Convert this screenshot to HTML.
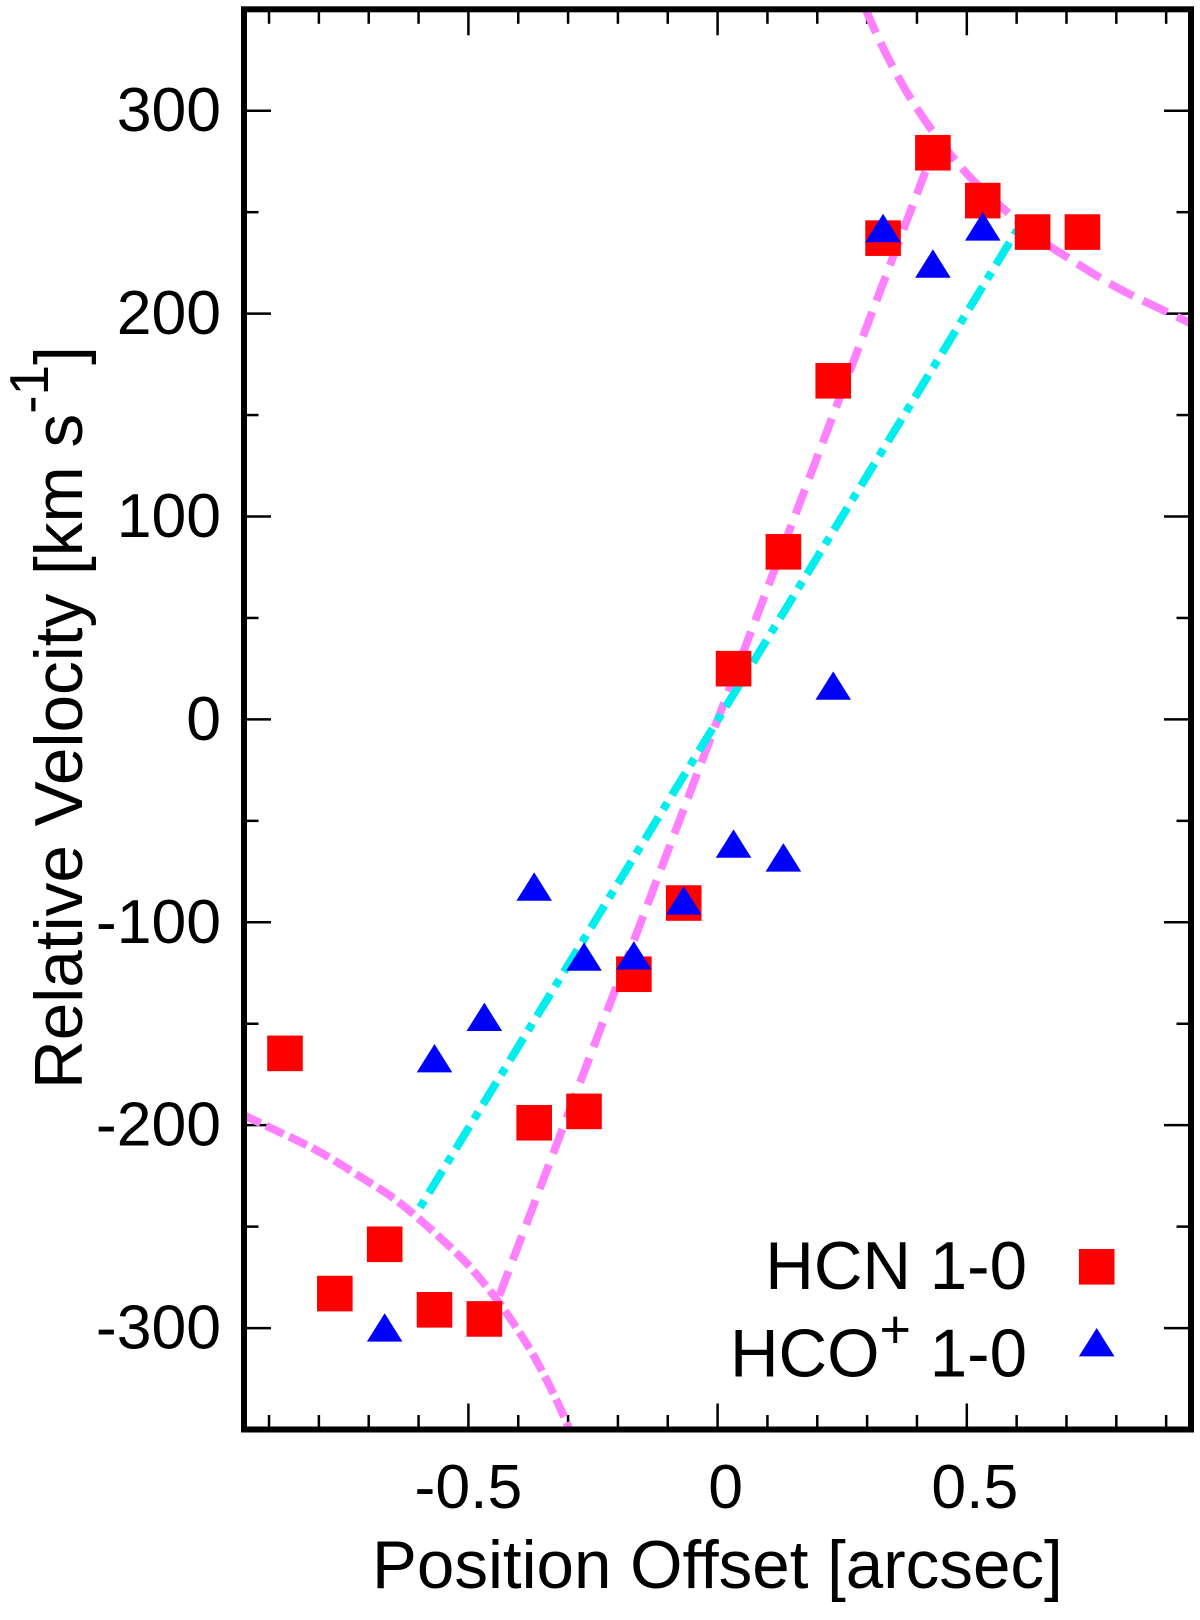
<!DOCTYPE html>
<html lang="en">
<head>
<meta charset="utf-8">
<title>Position-Velocity Diagram</title>
<style>
html,body{margin:0;padding:0;background:#fff;}
svg{display:block;}
text{font-family:"Liberation Sans",Arial,sans-serif;fill:#000;}
</style>
</head>
<body>
<svg id="chart" xmlns="http://www.w3.org/2000/svg" width="1200" height="1620" viewBox="0 0 1200 1620">
  <defs>
    <clipPath id="plot-clip"><rect x="244" y="9.3" width="947" height="1420.2"></rect></clipPath>
  </defs>
  <rect x="0" y="0" width="1200" height="1620" fill="#ffffff"></rect>
  <g id="ticks"></g>
  <g id="tick-labels"></g>
  <g id="lines" clip-path="url(#plot-clip)"></g>
  <g id="markers"></g>
  <rect x="244" y="9.3" width="947" height="1420.2" fill="none" stroke="#000" stroke-width="6"></rect>
  <text x="372" y="1588" font-size="67.3">Position Offset [arcsec]</text>
  <text transform="translate(82,1089) rotate(-90)" font-size="67.5">Relative Velocity [km s<tspan font-size="55" dy="-34">-1</tspan><tspan dy="34">]</tspan></text>
  <text x="1027" y="1289" font-size="67.3" text-anchor="end">HCN 1-0</text>
  <text x="1027" y="1376.7" font-size="67.3" text-anchor="end">HCO<tspan font-size="54" dy="-29">+</tspan><tspan dy="29"> 1-0</tspan></text>
  <g id="legend-keys"></g>
</svg>
<script>
var xTickValues = [-0.9,-0.8,-0.7,-0.6,-0.5,-0.4,-0.3,-0.2,-0.1,0,0.1,0.2,0.3,0.4,0.5,0.6,0.7,0.8,0.9];
var xTickLabels = ["-0.5","0","0.5"];
var xLabelValues = [-0.5,0,0.5];
var yTickValues = [-300,-250,-200,-150,-100,-50,0,50,100,150,200,250,300];
var yTickLabels = ["-300","-200","-100","0","100","200","300"];
var yLabelValues = [-300,-200,-100,0,100,200,300];

var hcnOffset = [-0.868,-0.768,-0.668,-0.568,-0.468,-0.368,-0.268,-0.168,-0.068,0.032,0.132,0.232,0.332,0.432,0.532,0.632,0.732];
var hcnVelocity = [-164.6,-283,-258.7,-291,-295.5,-198.8,-193.2,-125.6,-90.5,25,82.6,166.9,237.2,279.3,255.7,240.2,240.2];

var hcoOffset = [-0.668,-0.568,-0.468,-0.368,-0.268,-0.168,-0.068,0.032,0.132,0.232,0.332,0.432,0.532];
var hcoVelocity = [-299.7,-167,-146.6,-82.4,-116.9,-116.3,-89.2,-61.2,-68,16.7,242.2,224.7,243];

var riseLineOffset = [-0.438,0.417];
var riseLineVelocity = [-284,270];
var cyanLineOffset = [-0.597,0.601];
var cyanLineVelocity = [-240.5,241.2];
var upperCurveOffset = [0.29,0.33,0.38,0.44,0.5,0.55,0.6,0.65,0.7,0.8,0.9,0.96];
var upperCurveVelocity = [354,332,309,287,269,257,246,236,228,213,201,194];
var lowerCurveOffset = [-0.96,-0.9,-0.8,-0.7,-0.65,-0.6,-0.55,-0.5,-0.44,-0.38,-0.33,-0.29];
var lowerCurveVelocity = [-194,-201,-213,-228,-236,-246,-257,-269,-287,-309,-332,-354];

var NS = 'http://www.w3.org/2000/svg';
function xScale(v){ return 717.6 + v*498.4; }
function yScale(v){ return 719.4 - v*2.0289; }
function mk(tag, parent){ var e = document.createElementNS(NS, tag); parent.appendChild(e); return e; }
function fmt(n){ return n.toFixed(2); }

var ticksG = document.getElementById('ticks');
var labelsG = document.getElementById('tick-labels');
var linesG = document.getElementById('lines');
var markersG = document.getElementById('markers');
var legendG = document.getElementById('legend-keys');

function drawTick(x1,y1,x2,y2){
  var t = mk('line', ticksG);
  
  
  t.setAttribute('x1', fmt(x1)); t.setAttribute('y1', fmt(y1));
  t.setAttribute('x2', fmt(x2)); t.setAttribute('y2', fmt(y2));
  t.setAttribute('stroke', '#000'); t.setAttribute('stroke-width', '2.5');
}
xTickValues.forEach(function(v){
  var len = xLabelValues.indexOf(v) >= 0 ? 23 : 11.5;
  var x = xScale(v);
  drawTick(x, 9.3, x, 12.3+len);
  drawTick(x, 1429.5, x, 1426.5-len);
});
yTickValues.forEach(function(v){
  var len = yLabelValues.indexOf(v) >= 0 ? 24 : 11.5;
  var y = yScale(v);
  drawTick(244, y, 247+len, y);
  drawTick(1191, y, 1188-len, y);
});

xLabelValues.forEach(function(v,i){
  var t = mk('text', labelsG);
  
  
  t.setAttribute('x', fmt(xScale(v) + (v < 0 ? 0 : 8)));
  t.setAttribute('y', '1508');
  t.setAttribute('font-size', '62.5');
  t.setAttribute('text-anchor', 'middle');
  t.textContent = xTickLabels[i];
});
yLabelValues.forEach(function(v,i){
  var t = mk('text', labelsG);
  
  
  t.setAttribute('x', '221');
  t.setAttribute('y', fmt(yScale(v) + 20.5));
  t.setAttribute('font-size', '62.5');
  t.setAttribute('text-anchor', 'end');
  t.textContent = yTickLabels[i];
});

function linePath(xs, vs){
  return xs.map(function(x,i){ return (i ? 'L' : 'M') + fmt(xScale(x)) + ' ' + fmt(yScale(vs[i])); }).join(' ');
}
/* smooth path through the read points (Catmull-Rom as cubic Beziers) */
function smoothPath(xs, vs){
  var p = xs.map(function(x,i){ return [xScale(x), yScale(vs[i])]; });
  var d = 'M' + fmt(p[0][0]) + ' ' + fmt(p[0][1]);
  for (var i = 0; i < p.length-1; i++){
    var a = p[Math.max(i-1,0)], b = p[i], c = p[i+1], e = p[Math.min(i+2,p.length-1)];
    d += ' C' + fmt(b[0]+(c[0]-a[0])/6) + ' ' + fmt(b[1]+(c[1]-a[1])/6) + ' ' +
         fmt(c[0]-(e[0]-b[0])/6) + ' ' + fmt(c[1]-(e[1]-b[1])/6) + ' ' +
         fmt(c[0]) + ' ' + fmt(c[1]);
  }
  return d;
}

var riseLine = mk('path', linesG);


riseLine.setAttribute('d', linePath(riseLineOffset, riseLineVelocity));
riseLine.setAttribute('fill', 'none');
riseLine.setAttribute('stroke', '#ff80ff');
riseLine.setAttribute('stroke-width', '8');
riseLine.setAttribute('stroke-dasharray', '26 12');

var upperCurve = mk('path', linesG);


upperCurve.setAttribute('d', smoothPath(upperCurveOffset, upperCurveVelocity));
upperCurve.setAttribute('fill', 'none');
upperCurve.setAttribute('stroke', '#ff80ff');
upperCurve.setAttribute('stroke-width', '8');
upperCurve.setAttribute('stroke-dasharray', '27 10.6');
upperCurve.setAttribute('stroke-dashoffset', '-7.5');

var lowerCurve = mk('path', linesG);


lowerCurve.setAttribute('d', smoothPath(lowerCurveOffset, lowerCurveVelocity));
lowerCurve.setAttribute('fill', 'none');
lowerCurve.setAttribute('stroke', '#ff80ff');
lowerCurve.setAttribute('stroke-width', '8');
lowerCurve.setAttribute('stroke-dasharray', '19.4 6.1');
lowerCurve.setAttribute('stroke-dashoffset', '-4.4');

var cyanLine = mk('path', linesG);


cyanLine.setAttribute('d', linePath(cyanLineOffset, cyanLineVelocity));
cyanLine.setAttribute('fill', 'none');
cyanLine.setAttribute('stroke', '#00eeee');
cyanLine.setAttribute('stroke-width', '8');
cyanLine.setAttribute('stroke-dasharray', '8 8.9 26 8.9');

function drawSquare(parent, cx, cy){
  var s = mk('rect', parent);
  s.setAttribute('x', fmt(cx-17.8));
  s.setAttribute('y', fmt(cy-17.8));
  s.setAttribute('width', '35.6');
  s.setAttribute('height', '35.6');
  s.setAttribute('fill', '#ff0000');
  return s;
}
function drawTriangle(parent, cx, cy){
  var p = mk('polygon', parent);
  p.setAttribute('points', fmt(cx)+','+fmt(cy-14.2)+' '+fmt(cx+17.8)+','+fmt(cy+14.2)+' '+fmt(cx-17.8)+','+fmt(cy+14.2));
  p.setAttribute('fill', '#0000ff');
  return p;
}
hcnOffset.forEach(function(x,i){
  var s = drawSquare(markersG, xScale(x), yScale(hcnVelocity[i]));
  
  
});
hcoOffset.forEach(function(x,i){
  var p = drawTriangle(markersG, xScale(x), yScale(hcoVelocity[i]));
  
  
});

var keySquare = drawSquare(legendG, 1096.7, 1266.8);


var keyTriangle = drawTriangle(legendG, 1096.7, 1342.2);


</script>
</body>
</html>
